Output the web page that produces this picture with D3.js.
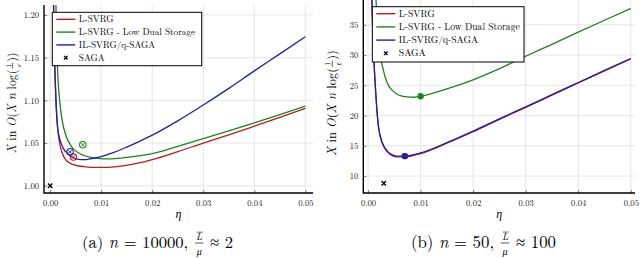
<!DOCTYPE html>
<html>
<head>
<meta charset="utf-8">
<script src="https://cdn.jsdelivr.net/npm/d3@7"></script>
<style>
  body { margin: 0; background: #fff; }
  svg { display: block; }
  text { white-space: pre; }
</style>
</head>
<body>
<svg id="chart" width="640" height="258"></svg>
<script>
// ---- data ----
var etaTicks = [0, 0.01, 0.02, 0.03, 0.04, 0.05];
var etaTickLabels = ['0.00', '0.01', '0.02', '0.03', '0.04', '0.05'];
var seriesNames = ['L-SVRG', 'L-SVRG - Low Dual Storage', 'IL-SVRG/q-SAGA', 'SAGA'];

// (a) n = 10000
var aTicks = [1.00, 1.05, 1.10, 1.15, 1.20];
var aTickLabels = ['1.00', '1.05', '1.10', '1.15', '1.20'];
var aLsvrg = [[0.00063, 1.2233], [0.00088, 1.1472], [0.00114, 1.1004], [0.00147, 1.0676], [0.00176, 1.0535],
  [0.00229, 1.0395], [0.00327, 1.0289], [0.00456, 1.0248], [0.00652, 1.0225], [0.0098, 1.0215],
  [0.0131, 1.0225], [0.0170, 1.0262], [0.0202, 1.0310], [0.0250, 1.0400], [0.0300, 1.0500],
  [0.0350, 1.0596], [0.0400, 1.0697], [0.0450, 1.0800], [0.0500, 1.0906]];
var aLowDual = [[0.00108, 1.2233], [0.00127, 1.1823], [0.00143, 1.1413], [0.00186, 1.1004], [0.00235, 1.0769],
  [0.00313, 1.0582], [0.00411, 1.0465], [0.00529, 1.0394], [0.00666, 1.0354], [0.0092, 1.0320],
  [0.01175, 1.0314], [0.0143, 1.0326], [0.0176, 1.0352], [0.0202, 1.0378], [0.0250, 1.0462],
  [0.0300, 1.0553], [0.0350, 1.0643], [0.0400, 1.0736], [0.0450, 1.0832], [0.0500, 1.0933]];
var aIlsvrg = [[0.00063, 1.2233], [0.00088, 1.1472], [0.00114, 1.1004], [0.00147, 1.0676], [0.00196, 1.0535],
  [0.00255, 1.0441], [0.00333, 1.0383], [0.00411, 1.0342], [0.00529, 1.0311], [0.00666, 1.0305],
  [0.00783, 1.0314], [0.0098, 1.0338], [0.0125, 1.0390], [0.0150, 1.0452], [0.0175, 1.0520],
  [0.0200, 1.0592], [0.0250, 1.0760], [0.0300, 1.0945], [0.0350, 1.1140], [0.0400, 1.1345],
  [0.0450, 1.1545], [0.0500, 1.1745]];
var aMarks = [[0.00456, 1.0336], [0.0064, 1.048], [0.0039, 1.0398]];
var aSaga = [0, 1.00];

// (b) n = 50
var bTicks = [10, 15, 20, 25, 30, 35];
var bTickLabels = ['10', '15', '20', '25', '30', '35'];
var bLsvrg = [[0.00071, 39.9], [0.00090, 34.1], [0.00118, 28.1], [0.00156, 22.5], [0.00195, 18.35],
  [0.00242, 16.2], [0.00300, 14.85], [0.00376, 13.92], [0.00452, 13.42], [0.00548, 13.17],
  [0.0070, 13.17], [0.0100, 13.72], [0.0150, 15.42], [0.0200, 17.32], [0.0250, 19.38], [0.0300, 21.36],
  [0.0350, 23.38], [0.0400, 25.38], [0.0450, 27.38], [0.0500, 29.35]];
var bLowDual = [[0.00147, 39.97], [0.00166, 36.66], [0.00195, 33.68], [0.00233, 30.03], [0.00281, 27.88],
  [0.00357, 25.56], [0.00471, 24.07], [0.00605, 23.33], [0.00739, 23.08], [0.00872, 23.03],
  [0.00987, 23.16], [0.0150, 24.4], [0.0200, 25.9], [0.0250, 27.75], [0.0300, 29.8],
  [0.0350, 31.78], [0.0400, 33.78], [0.0450, 35.75], [0.0500, 37.7]];
var bIlsvrg = [[0.00071, 39.97], [0.00090, 34.17], [0.00118, 28.21], [0.00156, 22.58], [0.00195, 18.44],
  [0.00242, 16.29], [0.00300, 14.97], [0.00376, 14.04], [0.00452, 13.54], [0.00548, 13.3],
  [0.0070, 13.3], [0.0100, 13.82], [0.0150, 15.52], [0.0200, 17.42], [0.0250, 19.46], [0.0300, 21.44],
  [0.0350, 23.46], [0.0400, 25.46], [0.0450, 27.46], [0.0500, 29.45]];
var bMarks = [[0.0070, 13.3], [0.0100, 23.2], [0.0070, 13.3]];
var bSaga = [0.003, 8.8];

// ---- styles ----
var colors = ['#b81d22', '#1b861b', '#2121a6'];
var serif = '"Latin Modern Roman", "Liberation Serif", serif';
var gridColor = '#e6e6e6';

var svg = d3.select('#chart');

// writes a row of text pieces (plain, italic, fractions), centred on 0, scaled to a target width
function mathText(g, pieces, size, target) {
  var inner = g.append('g');
  var x = 0;
  pieces.forEach(function(p) {
    if (p.frac) {
      var fs = size * 0.6;
      var num = inner.append('text').text(p.frac[0])
        .attr('font-family', serif).attr('font-size', fs)
        .attr('font-style', p.fi ? 'italic' : 'normal')
        .attr('y', -size * 0.46);
      var den = inner.append('text').text(p.frac[1])
        .attr('font-family', serif).attr('font-size', fs)
        .attr('font-style', 'italic')
        .attr('y', size * 0.4);
      var nw = num.node().getComputedTextLength(), dw = den.node().getComputedTextLength();
      var w = Math.max(nw, dw) + 2;
      num.attr('x', x + 1 + (w - nw) / 2);
      den.attr('x', x + 1 + (w - dw) / 2);
      inner.append('line').attr('x1', x + 1).attr('x2', x + 1 + w)
        .attr('y1', -size * 0.3).attr('y2', -size * 0.3)
        .attr('stroke', '#000').attr('stroke-width', 0.6);
      if (p.bar) {
        var nx = x + 1 + (w - nw) / 2;
        inner.append('line').attr('x1', nx + 0.8).attr('x2', nx + nw + 0.6)
          .attr('y1', -size * 0.95).attr('y2', -size * 0.95)
          .attr('stroke', '#000').attr('stroke-width', 0.5);
      }
      x += w + 2;
    } else {
      var t = inner.append('text').text(p.t)
        .attr('font-family', serif).attr('font-size', size)
        .attr('font-style', p.i ? 'italic' : 'normal')
        .attr('x', x);
      x += t.node().getComputedTextLength();
    }
  });
  var k = target ? target / x : 1;
  inner.attr('transform', 'scale(' + k + ') translate(' + (-x / 2) + ',0)');
}

function crossMark(g, cx, cy, r, color, sw) {
  g.append('path')
    .attr('d', 'M' + (cx - r) + ',' + (cy - r) + 'L' + (cx + r) + ',' + (cy + r) +
               'M' + (cx - r) + ',' + (cy + r) + 'L' + (cx + r) + ',' + (cy - r))
    .attr('stroke', color).attr('stroke-width', sw).attr('fill', 'none');
}

function drawPanel(cfg) {
  var x = d3.scaleLinear().domain(cfg.xDomain).range([cfg.left, cfg.right]);
  var y = d3.scaleLinear().domain(cfg.yDomain).range([cfg.bottom, cfg.top]);
  var g = svg.append('g');

  // grid
  g.selectAll('.vg').data(etaTicks).enter().append('line')
    .attr('x1', function(d) { return x(d); }).attr('x2', function(d) { return x(d); })
    .attr('y1', cfg.top).attr('y2', cfg.bottom)
    .attr('stroke', gridColor).attr('stroke-width', 1);
  g.selectAll('.hg').data(cfg.yTicks).enter().append('line')
    .attr('x1', cfg.left).attr('x2', cfg.right)
    .attr('y1', function(d) { return y(d); }).attr('y2', function(d) { return y(d); })
    .attr('stroke', gridColor).attr('stroke-width', 1);

  // axes
  var xAxis = d3.axisBottom(x).tickValues(etaTicks)
    .tickFormat(function(d, i) { return etaTickLabels[i]; }).tickSize(-3).tickPadding(7);
  var xa = g.append('g').attr('transform', 'translate(0,' + cfg.bottom + ')').call(xAxis);
  var yAxis = d3.axisLeft(y).tickValues(cfg.yTicks)
    .tickFormat(function(d, i) { return cfg.yTickLabels[i]; }).tickSize(-3).tickPadding(5);
  var ya = g.append('g').attr('transform', 'translate(' + cfg.left + ',0)').call(yAxis);
  [xa, ya].forEach(function(a) {
    a.select('.domain').remove();
    a.selectAll('.tick line').attr('stroke', '#333').attr('stroke-width', 0.6);
    a.selectAll('.tick text').attr('font-family', serif).attr('font-size', 8.6).attr('fill', '#222');
  });
  g.append('path')
    .attr('d', 'M' + cfg.left + ',' + cfg.top + 'V' + cfg.bottom + 'H' + cfg.right)
    .attr('fill', 'none').attr('stroke', '#000').attr('stroke-width', 1.4);

  // curves
  var clipId = 'clip' + cfg.id;
  svg.append('clipPath').attr('id', clipId).append('rect')
    .attr('x', cfg.left).attr('y', cfg.top)
    .attr('width', cfg.right - cfg.left).attr('height', cfg.bottom - cfg.top);
  var line = d3.line()
    .x(function(d) { return x(d[0]); })
    .y(function(d) { return y(d[1]); })
    .curve(d3.curveMonotoneX);
  var cg = g.append('g').attr('clip-path', 'url(#' + clipId + ')');
  cfg.series.forEach(function(s, i) {
    cg.append('path').datum(s).attr('d', line)
      .attr('fill', 'none').attr('stroke', colors[i]).attr('stroke-width', 1.3);
  });

  // optimum markers
  cfg.marks.forEach(function(m, i) {
    var cx = x(m[0]), cy = y(m[1]);
    if (cfg.openMarks) {
      cg.append('circle').attr('cx', cx).attr('cy', cy).attr('r', 3.2)
        .attr('fill', 'none').attr('stroke', colors[i]).attr('stroke-width', 1.1);
      crossMark(cg, cx, cy, 1.6, colors[i], 1);
    } else {
      cg.append('circle').attr('cx', cx).attr('cy', cy).attr('r', 3.2).attr('fill', colors[i]);
    }
  });
  crossMark(cg, x(cfg.saga[0]), y(cfg.saga[1]), 2.2, '#000', 1.4);

  // legend
  var lg = g.append('g').attr('transform', 'translate(' + cfg.legend[0] + ',' + cfg.legend[1] + ')');
  lg.append('rect').attr('width', cfg.legend[2]).attr('height', cfg.legend[3])
    .attr('fill', '#fff').attr('stroke', '#000').attr('stroke-width', 1);
  // size the legend font so the longest entry spans the measured width
  var probe = lg.append('text').text(seriesNames[1]).attr('font-family', serif).attr('font-size', 10);
  var legendFont = 10 * cfg.legendTextWidth / probe.node().getComputedTextLength();
  probe.remove();
  seriesNames.forEach(function(name, i) {
    var ry = 7 + i * cfg.legendStep;
    if (i < 3) {
      lg.append('line').attr('x1', 4).attr('x2', 23).attr('y1', ry).attr('y2', ry)
        .attr('stroke', colors[i]).attr('stroke-width', 1.4);
    } else {
      crossMark(lg, 13.5, ry, 1.8, '#000', 1.3);
    }
    lg.append('text').text(name)
      .attr('x', 26.5).attr('y', ry + legendFont * 0.33)
      .attr('font-family', serif).attr('font-size', legendFont).attr('fill', '#000');
  });

  // axis titles
  g.append('text').text('η')
    .attr('x', (cfg.left + cfg.right) / 2).attr('y', 218)
    .attr('text-anchor', 'middle').attr('font-family', serif)
    .attr('font-style', 'italic').attr('font-size', 12);

  var yl = g.append('g').attr('transform', 'translate(' + cfg.yLabelX + ',103) rotate(-90)');
  mathText(yl, [{t: 'X', i: true}, {t: ' in '}, {t: 'O', i: true}, {t: '('}, {t: 'X', i: true},
    {t: ' '}, {t: 'n', i: true}, {t: ' log('}, {frac: ['1', 'ε']}, {t: '))'}], 11.5, cfg.yLabelLen);

  var cap = g.append('g').attr('transform', 'translate(' + cfg.capX + ',248)');
  mathText(cap, cfg.caption, 15, cfg.capLen);
}

drawPanel({
  id: 'a', left: 44, right: 313, top: 5, bottom: 193,
  xDomain: [-0.0012, 0.0515], yDomain: [0.9915, 1.2117],
  yTicks: aTicks, yTickLabels: aTickLabels,
  series: [aLsvrg, aLowDual, aIlsvrg], marks: aMarks, saga: aSaga, openMarks: true,
  legend: [52.3, 12.3, 149.4, 53.4], legendStep: 12.8, legendTextWidth: 116.5,
  yLabelX: 16, yLabelLen: 101, capX: 157.5, capLen: 151,
  caption: [{t: '(a) '}, {t: 'n', i: true}, {t: ' = 10000, '}, {frac: ['L', 'μ'], fi: true, bar: true}, {t: ' ≈ 2'}]
});

drawPanel({
  id: 'b', left: 363.3, right: 635, top: 0, bottom: 193,
  xDomain: [-0.0009, 0.0508], yDomain: [7.2, 39.1],
  yTicks: bTicks, yTickLabels: bTickLabels,
  series: [bLsvrg, bLowDual, bIlsvrg], marks: bMarks, saga: bSaga, openMarks: false,
  legend: [372.3, 6.7, 151.7, 55.3], legendStep: 13.2, legendTextWidth: 121,
  yLabelX: 336, yLabelLen: 106, capX: 483.5, capLen: 145,
  caption: [{t: '(b) '}, {t: 'n', i: true}, {t: ' = 50, '}, {frac: ['L', 'μ'], fi: true, bar: true}, {t: ' ≈ 100'}]
});
</script>
</body>
</html>
